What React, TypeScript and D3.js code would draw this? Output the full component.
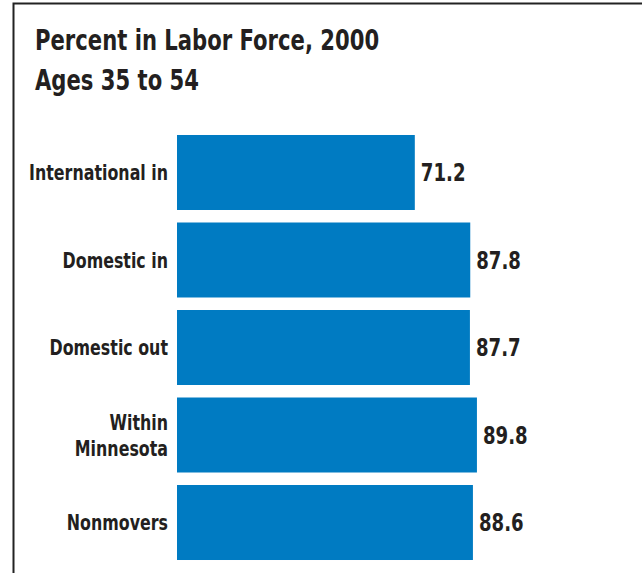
import React from "react";
import * as d3 from "d3";

const categories = ["International in", "Domestic in", "Domestic out", "Within Minnesota", "Nonmovers"];
const labelLines = [["International in"], ["Domestic in"], ["Domestic out"], ["Within", "Minnesota"], ["Nonmovers"]];
const values = [71.2, 87.8, 87.7, 89.8, 88.6];
const titleLines = ["Percent in Labor Force, 2000", "Ages 35 to 54"];

const W = 642;
const H = 573;
const FONT = "'DejaVu Sans Condensed', 'DejaVu Sans', sans-serif";
const TEXT = "#231f20";
const BAR = "#007bc2";
const SX = 0.84;

function T({ x, y, size, anchor = "start", dy = "0", children }: any) {
  return (
    <text
      transform={`translate(${x},${y}) scale(${SX},1)`}
      dy={dy}
      textAnchor={anchor}
      fontFamily={FONT}
      fontWeight="bold"
      fontSize={size}
      fill={TEXT}
    >
      {children}
    </text>
  );
}

export default function App() {
  const x = d3.scaleLinear().domain([0, 100]).range([177, 177 + 334]);
  const y = d3
    .scaleBand<string>()
    .domain(categories)
    .range([128.75, 566.25])
    .paddingInner(0.1429)
    .paddingOuter(0.0714);
  const bh = y.bandwidth();
  return (
    <svg width={W} height={H} style={{ position: "absolute", left: 0, top: 0, background: "#fff" }}>
      <rect x={0} y={0} width={W} height={H} fill="#fff" />
      <path d={`M13.5,${H} V3.5 H${W}`} fill="none" stroke="#222" strokeWidth={2} />
      {titleLines.map((t, i) => (
        <T key={t} x={35} y={49.5 + i * 40} size={28}>
          {t}
        </T>
      ))}
      {categories.map((c, i) => {
        const yc = (y(c) as number) + bh / 2;
        const lines = labelLines[i];
        return (
          <g key={c}>
            <rect x={x(0)} y={y(c)} width={x(values[i]) - x(0)} height={bh} fill={BAR} />
            {lines.map((l, j) => (
              <T key={l} x={168} y={yc + (j - (lines.length - 1) / 2) * 26} dy="0.36em" anchor="end" size={21}>
                {l}
              </T>
            ))}
            <T x={x(values[i]) + 6} y={yc} dy="0.36em" size={24}>
              {values[i].toFixed(1)}
            </T>
          </g>
        );
      })}
    </svg>
  );
}
